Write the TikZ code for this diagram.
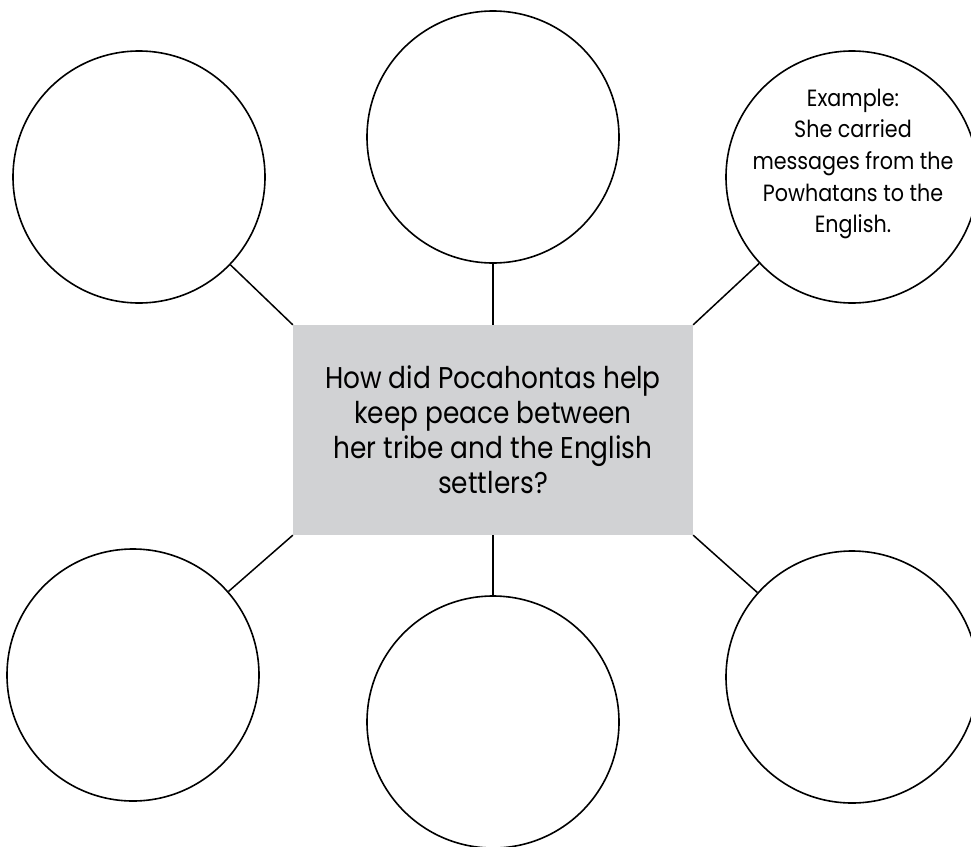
\documentclass[tikz,border=0pt]{standalone}
\usepackage{fontspec}
\setmainfont[FakeStretch=0.88]{Poppins}
\definecolor{boxgray}{RGB}{209,210,212}
\begin{document}
\begin{tikzpicture}[x=1pt,y=-1pt,
  bubble/.style={circle,draw=black,line width=1.6pt,minimum size=252pt,inner sep=0pt},
  question/.style={rectangle,fill=boxgray,minimum width=400pt,minimum height=210pt,inner sep=0pt,align=center,
     font=\fontsize{30}{35}\selectfont},
  link/.style={draw=black,line width=1.5pt},
  example/.style={align=center,font=\fontsize{23.5}{31.7}\selectfont}]
\useasboundingbox (0,0) rectangle (971,846);
\clip (0,0) rectangle (971,846);
\node[question] (q) at (493,430) {How did Pocahontas help\\keep peace between\\her tribe and the English\\settlers?};
\node[bubble] (tl) at (139,177) {};
\node[bubble] (tm) at (493,137) {};
\node[bubble,example] (tr) at (852,177) {};
\node[example] (trtext) at (853,164) {Example:\\She carried\\messages from the\\Powhatans to the\\English.};
\node[bubble] (bl) at (133,675) {};
\node[bubble] (bm) at (493,722) {};
\node[bubble] (br) at (852,677) {};
\draw[link] (q.north west) -- (tl);
\draw[link] (q.north) -- (tm.south);
\draw[link] (q.north east) -- (tr);
\draw[link] (q.south west) -- (bl);
\draw[link] (q.south) -- (bm.north);
\draw[link] (q.south east) -- (br);
\end{tikzpicture}
\end{document}
